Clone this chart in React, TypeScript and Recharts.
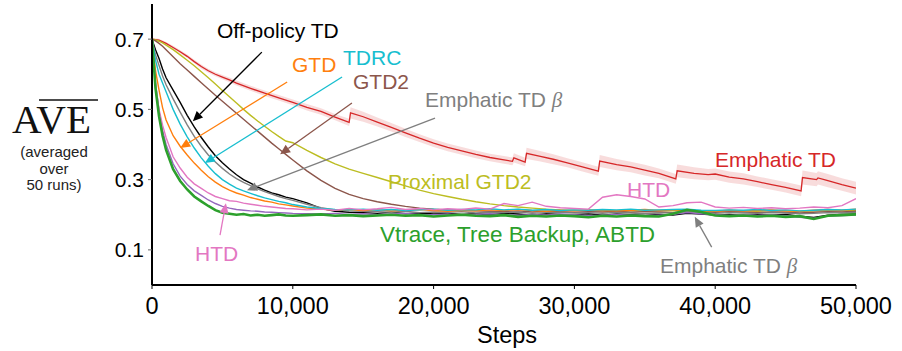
import React from 'react';
import {
  ComposedChart,
  Line,
  Area,
  XAxis,
  YAxis,
  ReferenceLine,
} from 'recharts';

const FONT = '"Liberation Sans", Arial, Helvetica, sans-serif';

// shared step grid for the fast-converging methods
const steps = [
  0, 250, 500, 750, 1000, 1500, 2000, 2500, 3000, 3500, 4000, 4500, 5000, 5500, 6000, 6500,
  7000, 7500, 8000, 8500, 9000, 9500, 10000, 11000, 12000, 13000, 14000, 15000, 16000, 17000,
  18000, 19000, 20000, 21000, 22000, 23000, 24000, 25000, 26000, 27000, 28000, 29000, 30000,
  31000, 32000, 33000, 34000, 35000, 36000, 37000, 38000, 39000, 40000, 41000, 42000, 43000,
  44000, 45000, 46000, 47000, 48000, 49000, 50000,
];

const offPolicyTD = [
  0.7, 0.67, 0.645, 0.615, 0.59, 0.555, 0.52, 0.483, 0.45, 0.42, 0.393, 0.368, 0.348, 0.33, 0.314, 0.3,
  0.29, 0.279, 0.27, 0.262, 0.257, 0.25, 0.246, 0.234, 0.218, 0.21, 0.207, 0.206, 0.204, 0.207,
  0.203, 0.205, 0.202, 0.204, 0.201, 0.203, 0.2, 0.204, 0.202, 0.199, 0.203, 0.201, 0.2,
  0.203, 0.199, 0.202, 0.2, 0.198, 0.201, 0.199, 0.204, 0.202, 0.199, 0.201, 0.198, 0.2,
  0.199, 0.201, 0.196, 0.192, 0.199, 0.201, 0.202,
];

const emphaticTDBeta = [
  0.7, 0.655, 0.625, 0.595, 0.57, 0.53, 0.492, 0.456, 0.423, 0.395, 0.37, 0.35, 0.332, 0.316, 0.303, 0.292,
  0.283, 0.274, 0.266, 0.259, 0.252, 0.246, 0.241, 0.23, 0.22, 0.214, 0.211, 0.21, 0.209, 0.207,
  0.21, 0.206, 0.208, 0.207, 0.209, 0.205, 0.207, 0.206, 0.208, 0.204, 0.206, 0.207, 0.205,
  0.206, 0.204, 0.207, 0.205, 0.203, 0.205, 0.206, 0.209, 0.207, 0.204, 0.206, 0.205, 0.204,
  0.206, 0.205, 0.203, 0.204, 0.206, 0.205, 0.207,
];

const tdrc = [
  0.7, 0.64, 0.6, 0.575, 0.55, 0.5, 0.458, 0.422, 0.39, 0.362, 0.338, 0.317, 0.3, 0.287, 0.276, 0.268,
  0.261, 0.254, 0.248, 0.243, 0.238, 0.234, 0.229, 0.222, 0.218, 0.215, 0.214, 0.216, 0.213, 0.215,
  0.212, 0.214, 0.216, 0.213, 0.215, 0.214, 0.217, 0.214, 0.216, 0.213, 0.215, 0.212, 0.214,
  0.213, 0.215, 0.214, 0.216, 0.213, 0.214, 0.215, 0.216, 0.213, 0.212, 0.214, 0.213, 0.215,
  0.212, 0.214, 0.211, 0.213, 0.215, 0.214, 0.216,
];

const gtd = [
  0.7, 0.61, 0.555, 0.505, 0.47, 0.425, 0.395, 0.37, 0.347, 0.327, 0.308, 0.293, 0.28, 0.27, 0.262, 0.256,
  0.249, 0.244, 0.239, 0.236, 0.231, 0.228, 0.225, 0.219, 0.216, 0.213, 0.215, 0.212, 0.214, 0.211,
  0.213, 0.215, 0.212, 0.21, 0.213, 0.211, 0.214, 0.212, 0.215, 0.212, 0.21, 0.213, 0.211,
  0.214, 0.212, 0.211, 0.213, 0.215, 0.212, 0.214, 0.213, 0.211, 0.21, 0.213, 0.211, 0.212,
  0.214, 0.211, 0.21, 0.213, 0.215, 0.213, 0.216,
];

const gtd2 = [
  0.7, 0.695, 0.688, 0.68, 0.67, 0.65, 0.63, 0.612, 0.594, 0.576, 0.558, 0.54, 0.523, 0.506, 0.489, 0.472,
  0.455, 0.438, 0.421, 0.404, 0.388, 0.372, 0.356, 0.325, 0.298, 0.275, 0.258, 0.246, 0.237, 0.23,
  0.224, 0.219, 0.216, 0.214, 0.212, 0.211, 0.21, 0.209, 0.211, 0.208, 0.21, 0.209, 0.207,
  0.209, 0.208, 0.21, 0.207, 0.209, 0.208, 0.206, 0.209, 0.208, 0.207, 0.209, 0.208, 0.206,
  0.208, 0.207, 0.205, 0.207, 0.209, 0.208, 0.21,
];

const proximalGTD2 = [
  0.7, 0.698, 0.694, 0.689, 0.683, 0.67, 0.655, 0.64, 0.624, 0.607, 0.59, 0.572, 0.554, 0.536, 0.518, 0.5,
  0.483, 0.467, 0.452, 0.437, 0.423, 0.41, 0.405, 0.383, 0.363, 0.345, 0.33, 0.318, 0.306, 0.294,
  0.282, 0.27, 0.26, 0.252, 0.244, 0.237, 0.231, 0.226, 0.222, 0.219, 0.216, 0.214, 0.213,
  0.212, 0.213, 0.211, 0.212, 0.21, 0.212, 0.211, 0.213, 0.211, 0.21, 0.212, 0.211, 0.21,
  0.212, 0.211, 0.209, 0.211, 0.212, 0.211, 0.212,
];

const htd = [
  0.7, 0.57, 0.5, 0.455, 0.42, 0.365, 0.333, 0.307, 0.288, 0.275, 0.262, 0.252, 0.246, 0.24, 0.238, 0.233,
  0.23, 0.227, 0.224, 0.222, 0.22, 0.218, 0.217, 0.214, 0.216, 0.213, 0.218, 0.214, 0.217, 0.221,
  0.215, 0.218, 0.214, 0.217, 0.215, 0.219, 0.216, 0.232, 0.226, 0.236, 0.224, 0.22, 0.218,
  0.216, 0.25, 0.257, 0.252, 0.245, 0.222, 0.226, 0.234, 0.236, 0.222, 0.219, 0.221, 0.218,
  0.22, 0.217, 0.219, 0.222, 0.22, 0.226, 0.246,
];

const abtd = [
  0.7, 0.575, 0.495, 0.44, 0.4, 0.345, 0.31, 0.286, 0.268, 0.255, 0.242, 0.232, 0.224, 0.219, 0.215, 0.213,
  0.211, 0.21, 0.208, 0.207, 0.206, 0.205, 0.204, 0.203, 0.202, 0.204, 0.201, 0.203, 0.2, 0.202,
  0.204, 0.201, 0.2, 0.202, 0.199, 0.201, 0.203, 0.2, 0.198, 0.201, 0.199, 0.202, 0.2,
  0.197, 0.199, 0.201, 0.199, 0.197, 0.199, 0.201, 0.206, 0.203, 0.2, 0.198, 0.2, 0.198,
  0.199, 0.197, 0.193, 0.19, 0.196, 0.198, 0.199,
];

const vtrace = [
  0.7, 0.56, 0.48, 0.425, 0.385, 0.33, 0.296, 0.272, 0.252, 0.238, 0.225, 0.213, 0.206, 0.203, 0.2, 0.202,
  0.198, 0.2, 0.197, 0.199, 0.201, 0.198, 0.197, 0.199, 0.201, 0.197, 0.199, 0.196, 0.198, 0.2,
  0.197, 0.199, 0.195, 0.198, 0.2, 0.197, 0.196, 0.199, 0.194, 0.197, 0.195, 0.198, 0.196,
  0.193, 0.197, 0.195, 0.198, 0.196, 0.195, 0.203, 0.214, 0.208, 0.198, 0.196, 0.198, 0.195,
  0.197, 0.194, 0.196, 0.188, 0.197, 0.199, 0.201,
];

// Emphatic TD has its own sampling because of the sawtooth resets
const emphaticSteps = [
  0, 500, 1000, 1500, 2000, 2500, 3000, 3500, 4000, 4500, 5000, 5500, 6000, 7000, 8000, 9000,
  10000, 11000, 12000, 13000, 14000, 14100, 15000, 16000, 17000, 18000, 19000, 20000, 21000,
  22000, 23000, 24000, 25000, 25600, 25700, 26500, 26600, 27500, 28500, 29500, 30500, 31700,
  31800, 33000, 34000, 35000, 36000, 37200, 37300, 38500, 39500, 40000, 41000, 42000, 43000,
  44000, 45000, 46100, 46200, 47200, 47300, 48000, 49000, 50000,
];
const emphaticTD = [
  0.7, 0.697, 0.688, 0.676, 0.664, 0.651, 0.636, 0.622, 0.61, 0.6, 0.592, 0.584, 0.575, 0.56, 0.546, 0.533,
  0.52, 0.506, 0.494, 0.478, 0.463, 0.49, 0.479, 0.464, 0.449, 0.433, 0.418, 0.404, 0.392,
  0.382, 0.372, 0.363, 0.356, 0.352, 0.362, 0.35, 0.375, 0.367, 0.358, 0.348, 0.337, 0.324,
  0.353, 0.343, 0.336, 0.327, 0.318, 0.302, 0.325, 0.318, 0.314, 0.316, 0.307, 0.302, 0.294,
  0.286, 0.278, 0.268, 0.306, 0.3, 0.305, 0.297, 0.286, 0.276,
];
// half-width of the shaded band around Emphatic TD
const emphaticSpread = [
  0.004, 0.004, 0.004, 0.005, 0.005, 0.005, 0.005, 0.006, 0.006, 0.006, 0.006, 0.007, 0.007, 0.007, 0.008, 0.008,
  0.008, 0.009, 0.009, 0.009, 0.01, 0.016, 0.014, 0.013, 0.012, 0.012, 0.011, 0.011, 0.011,
  0.011, 0.011, 0.011, 0.011, 0.011, 0.013, 0.012, 0.016, 0.015, 0.014, 0.013, 0.013, 0.013,
  0.017, 0.016, 0.015, 0.015, 0.014, 0.014, 0.018, 0.017, 0.016, 0.016, 0.016, 0.016, 0.015,
  0.015, 0.015, 0.015, 0.02, 0.019, 0.019, 0.019, 0.018, 0.018,
];

const xTicks = [0, 10000, 20000, 30000, 40000, 50000];
const yTicks = [0.1, 0.3, 0.5, 0.7];

// annotation arrows: [step, value] tail -> head
const arrows = [
  { from: [7800, 0.663], to: [2900, 0.466], color: '#000000' },
  { from: [9600, 0.578], to: [2000, 0.39], color: '#ff7f0e' },
  { from: [13500, 0.592], to: [3750, 0.347], color: '#17becf' },
  { from: [14200, 0.518], to: [9100, 0.372], color: '#8c564b' },
  { from: [20100, 0.475], to: [6750, 0.27], color: '#7f7f7f' },
  { from: [39750, 0.108], to: [38550, 0.194], color: '#7f7f7f' },
  { from: [4830, 0.142], to: [5250, 0.233], color: '#e377c2' },
];

const rows = steps.map((step, i) => ({
  step,
  offPolicyTD: offPolicyTD[i],
  emphaticTDBeta: emphaticTDBeta[i],
  tdrc: tdrc[i],
  gtd: gtd[i],
  gtd2: gtd2[i],
  proximalGTD2: proximalGTD2[i],
  htd: htd[i],
  abtd: abtd[i],
  vtrace: vtrace[i],
}));

const emphaticRows = emphaticSteps.map((step, i) => ({
  step,
  value: emphaticTD[i],
  band: [emphaticTD[i] - emphaticSpread[i], emphaticTD[i] + emphaticSpread[i]],
}));

const arrowShape = (color: string) => (props: any) => {
  const { x1, y1, x2, y2 } = props;
  const a = Math.atan2(y2 - y1, x2 - x1);
  const len = 10;
  const half = 4.5;
  const bx = x2 - len * Math.cos(a);
  const by = y2 - len * Math.sin(a);
  const pts = [
    `${x2},${y2}`,
    `${bx - half * Math.sin(a)},${by + half * Math.cos(a)}`,
    `${bx + half * Math.sin(a)},${by - half * Math.cos(a)}`,
  ].join(' ');
  return (
    <g>
      <line x1={x1} y1={y1} x2={bx} y2={by} stroke={color} strokeWidth={1.3} />
      <polygon points={pts} fill={color} />
    </g>
  );
};

const labels = [
  { text: 'Off-policy TD', x: 217, y: 38, color: '#000000' },
  { text: 'GTD', x: 292, y: 72, color: '#ff7f0e' },
  { text: 'TDRC', x: 343, y: 65, color: '#17becf' },
  { text: 'GTD2', x: 353, y: 89, color: '#8c564b' },
  { text: 'Proximal GTD2', x: 388, y: 189, color: '#bcbd22' },
  { text: 'Emphatic TD', x: 715, y: 167, color: '#d62728' },
  { text: 'HTD', x: 627, y: 197, color: '#e377c2' },
  { text: 'HTD', x: 195, y: 261, color: '#e377c2' },
];

export default function App() {
  const line = (key: string, color: string, width = 1.4) => (
    <Line
      key={key}
      type="linear"
      dataKey={key}
      stroke={color}
      strokeWidth={width}
      dot={false}
      isAnimationActive={false}
    />
  );

  return (
    <div style={{ position: 'absolute', left: 0, top: 0, width: 902, height: 351, background: '#fff' }}>
      <ComposedChart
        width={902}
        height={351}
        data={rows}
        margin={{ top: 4, right: 46, left: 102, bottom: 26 }}
      >
        <XAxis
          type="number"
          dataKey="step"
          domain={[0, 50000]}
          ticks={xTicks}
          tickFormatter={(v: number) => v.toLocaleString('en-US')}
          height={40}
          axisLine={{ stroke: '#000', strokeWidth: 2 }}
          tickLine={{ stroke: '#000' }}
          tickSize={4}
          tickMargin={8}
          tick={{ fill: '#000', fontSize: 23.5, fontFamily: FONT }}
          allowDataOverflow
        />
        <YAxis
          type="number"
          domain={[0, 0.8]}
          ticks={yTicks}
          width={50}
          axisLine={{ stroke: '#000', strokeWidth: 2 }}
          tickLine={{ stroke: '#666' }}
          tickSize={4}
          tickMargin={4}
          tick={{ fill: '#000', fontSize: 21, fontFamily: FONT }}
          allowDataOverflow
        />
        <Area
          data={emphaticRows}
          dataKey="band"
          type="linear"
          stroke="none"
          fill="#d62728"
          fillOpacity={0.16}
          isAnimationActive={false}
        />
        <Line
          data={emphaticRows}
          dataKey="value"
          type="linear"
          stroke="#d62728"
          strokeWidth={1.3}
          dot={false}
          isAnimationActive={false}
        />
        {line('proximalGTD2', '#bcbd22')}
        {line('gtd2', '#8c564b')}
        {line('offPolicyTD', '#000000')}
        {line('emphaticTDBeta', '#7f7f7f')}
        {line('gtd', '#ff7f0e')}
        {line('tdrc', '#17becf')}
        {line('abtd', '#9467bd')}
        {line('htd', '#e377c2')}
        {line('vtrace', '#2ca02c', 2.6)}
        {arrows.map((a, i) => (
          <ReferenceLine
            key={`arrow-${i}`}
            segment={[
              { x: a.from[0], y: a.from[1] },
              { x: a.to[0], y: a.to[1] },
            ]}
            shape={arrowShape(a.color)}
            ifOverflow="visible"
          />
        ))}
      </ComposedChart>
      <svg
        width={902}
        height={351}
        style={{ position: 'absolute', left: 0, top: 0, pointerEvents: 'none' }}
      >
        <g fontFamily={FONT} fontSize={21}>
          {labels.map((l, i) => (
            <text key={i} x={l.x} y={l.y} fill={l.color}>
              {l.text}
            </text>
          ))}
          <text x={425} y={107} fill="#7f7f7f">
            Emphatic TD{' '}
            <tspan fontFamily='"Liberation Serif", serif' fontStyle="italic">β</tspan>
          </text>
          <text x={660} y={273} fill="#7f7f7f">
            Emphatic TD{' '}
            <tspan fontFamily='"Liberation Serif", serif' fontStyle="italic">β</tspan>
          </text>
          <text x={380} y={242} fill="#2ca02c" fontSize={22.5}>
            Vtrace, Tree Backup, ABTD
          </text>
          <text x={507} y={343} fill="#000" fontSize={23.5} textAnchor="middle">
            Steps
          </text>
        </g>
        <text x={12} y={133} fontFamily='"Liberation Serif", "Times New Roman", serif' fontSize={41} fill="#111">
          AVE
        </text>
        <line x1={39} y1={100} x2={98} y2={100} stroke="#111" strokeWidth={1.6} />
        <g fontFamily={FONT} fontSize={15} fill="#222" textAnchor="middle">
          <text x={54} y={157}>(averaged</text>
          <text x={54} y={174}>over</text>
          <text x={54} y={190}>50 runs)</text>
        </g>
      </svg>
    </div>
  );
}
